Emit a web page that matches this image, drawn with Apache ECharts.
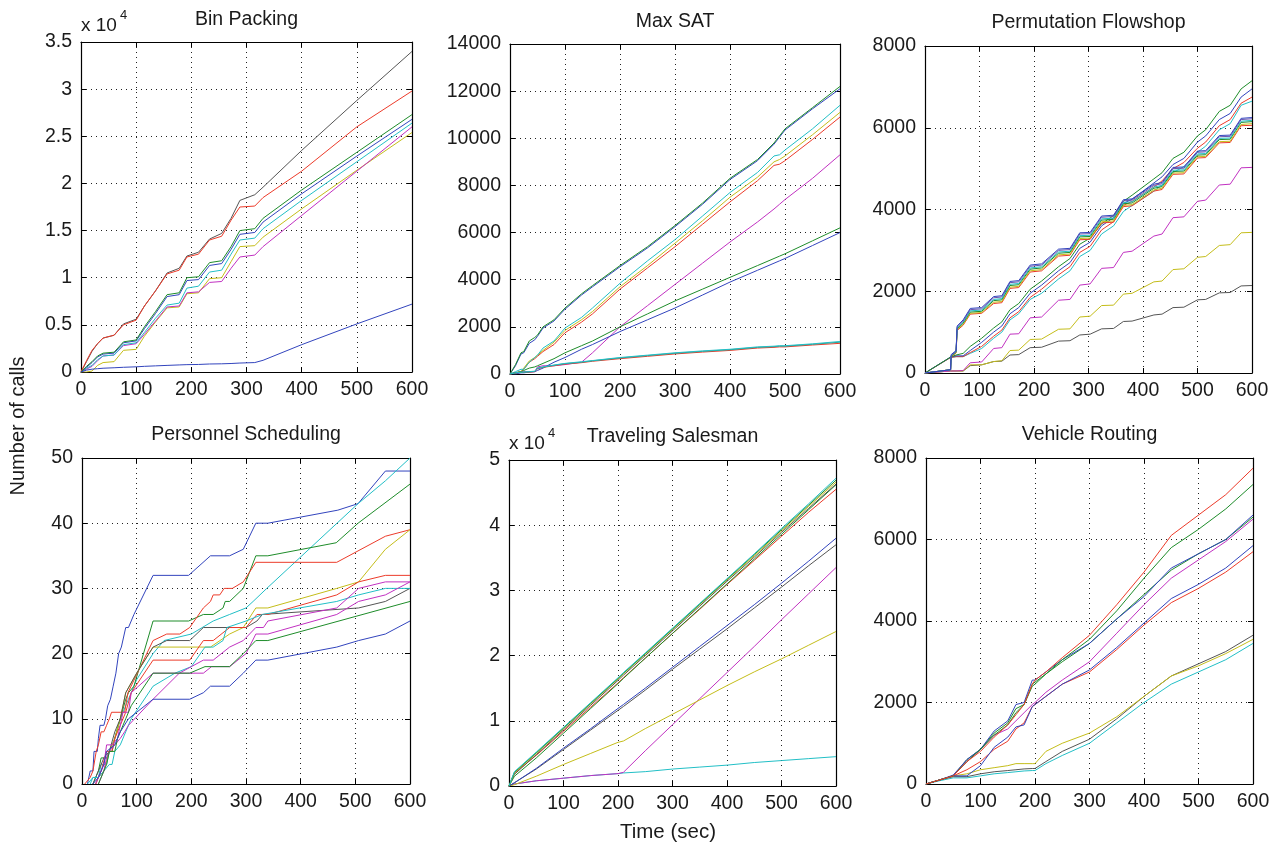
<!DOCTYPE html>
<html>
<head>
<meta charset="utf-8">
<script src="https://cdn.jsdelivr.net/npm/echarts@6/dist/echarts.min.js"></script>
<style>
html,body{margin:0;padding:0;background:#fff;}
#chart{width:1279px;height:848px;}
</style>
</head>
<body>
<div id="chart"></div>
<script>
// ---------------- DATA ----------------
const TIME_TICKS = [0, 100, 200, 300, 400, 500, 600];

// Bin Packing (common time grid)
const bpTime    = [0, 10, 20, 30, 40, 60, 77, 100, 115, 135, 156, 178, 192, 213, 233, 255, 272, 288, 315, 330, 400, 500, 600];
const bpGray    = [0, 1100, 2200, 3000, 3600, 3900, 5100, 5600, 7000, 8600, 10500, 11000, 12300, 12700, 14100, 14700, 16300, 18200, 18800, 19600, 23500, 28800, 34000];
const bpRed     = [0, 1200, 2300, 3000, 3600, 3900, 5000, 5500, 7000, 8600, 10400, 10800, 12200, 12500, 14000, 14400, 16100, 17500, 17600, 18500, 21300, 26000, 29800];
const bpGreen   = [0, 600, 1100, 1700, 2000, 2100, 3200, 3400, 4800, 6400, 8200, 8400, 10000, 10100, 11600, 11800, 13300, 15000, 15200, 16300, 19300, 23300, 27300];
const bpBlue    = [0, 500, 1000, 1600, 1900, 2000, 3100, 3300, 4600, 6200, 8000, 8200, 9700, 9800, 11300, 11500, 13000, 14600, 14800, 15900, 18900, 22900, 26800];
const bpCyan    = [0, 400, 700, 1300, 1700, 1800, 2900, 3100, 4200, 5700, 7100, 7300, 8900, 9100, 10600, 10800, 12500, 14000, 14200, 15200, 18200, 22300, 26400];
const bpMagenta = [0, 300, 600, 1200, 1700, 1800, 2800, 3000, 4000, 5400, 6900, 7000, 8400, 8500, 9500, 9600, 11000, 12200, 12400, 13300, 16600, 21300, 26000];
const bpYellow  = [0, 0, 100, 700, 1000, 1100, 2300, 2400, 3800, 5300, 6800, 6900, 8300, 8400, 9900, 10000, 11700, 13300, 13400, 14300, 17300, 21400, 25400];
const bpBlueLow = [0, 200, 300, 350, 400, 450, 500, 550, 600, 650, 700, 750, 780, 800, 850, 870, 900, 950, 1000, 1240, 2900, 5100, 7200];

// Max SAT
const msTime      = [0, 10, 20, 25, 35, 45, 50, 60, 80, 100, 130, 150, 200, 250, 300, 350, 400, 450, 480, 490, 500, 550, 600];
const msGreenTop  = [0, 400, 900, 950, 1400, 1550, 1650, 2000, 2300, 2800, 3400, 3750, 4600, 5400, 6300, 7250, 8300, 9100, 9800, 10100, 10400, 11300, 12200];
const msBlueTop   = [0, 350, 850, 900, 1300, 1450, 1600, 1950, 2250, 2750, 3350, 3700, 4550, 5350, 6250, 7200, 8250, 9050, 9750, 10050, 10350, 11250, 12100];
const msCyan      = [0, 100, 200, 200, 500, 700, 800, 1100, 1400, 1950, 2400, 2800, 3850, 4800, 5700, 6700, 7700, 8550, 9250, 9300, 9500, 10400, 11400];
const msYellow    = [0, 50, 100, 250, 550, 700, 800, 1000, 1350, 1850, 2300, 2650, 3700, 4600, 5550, 6500, 7500, 8350, 9000, 9100, 9250, 10150, 11100];
const msRed       = [0, 50, 100, 200, 500, 650, 750, 950, 1250, 1750, 2200, 2550, 3600, 4500, 5400, 6350, 7300, 8200, 8850, 8900, 9050, 9950, 10900];
const msMagenta   = [0, 50, 100, 100, 100, 100, 300, 350, 350, 400, 500, 900, 2000, 2900, 3800, 4700, 5600, 6450, 7000, 7200, 7400, 8300, 9300];
const msGreenMid  = [0, 50, 100, 150, 250, 300, 350, 450, 650, 900, 1200, 1400, 2000, 2550, 3100, 3600, 4100, 4600, 4900, 5000, 5100, 5650, 6200];
const msBlueMid   = [0, 0, 50, 50, 80, 100, 150, 250, 500, 700, 1050, 1250, 1800, 2300, 2800, 3350, 3900, 4400, 4700, 4800, 4900, 5450, 6000];
const msCyanLow   = [0, 50, 80, 80, 100, 120, 250, 300, 380, 450, 520, 570, 700, 800, 900, 980, 1050, 1150, 1180, 1200, 1200, 1280, 1380];
const msTealLow   = [0, 50, 75, 75, 90, 110, 240, 290, 370, 440, 500, 560, 680, 780, 880, 960, 1030, 1130, 1160, 1180, 1180, 1260, 1350];
const msRedLow    = [0, 50, 70, 70, 80, 100, 220, 280, 350, 420, 480, 540, 650, 750, 850, 930, 1000, 1100, 1130, 1150, 1150, 1230, 1300];

// Permutation Flowshop
const pfTime     = [0, 47, 48, 57, 59, 70, 83, 104, 126, 141, 156, 172, 193, 214, 245, 266, 284, 303, 324, 346, 364, 380, 420, 435, 455, 475, 500, 515, 540, 560, 580, 600];
const pfBlueA    = [0, 80, 450, 550, 1150, 1300, 1580, 1600, 1870, 1890, 2240, 2260, 2640, 2670, 3030, 3050, 3430, 3440, 3840, 3860, 4240, 4260, 4620, 4660, 5030, 5040, 5430, 5440, 5810, 5820, 6230, 6250];
const pfGrayA    = [0, 80, 430, 530, 1120, 1270, 1550, 1570, 1840, 1860, 2210, 2230, 2610, 2640, 3000, 3020, 3400, 3410, 3810, 3830, 4210, 4230, 4590, 4630, 5000, 5010, 5400, 5410, 5780, 5790, 6200, 6220];
const pfTealA    = [0, 80, 420, 520, 1100, 1240, 1520, 1540, 1800, 1820, 2170, 2190, 2570, 2600, 2960, 2980, 3360, 3370, 3770, 3790, 4170, 4190, 4550, 4590, 4960, 4970, 5360, 5370, 5740, 5750, 6160, 6180];
const pfGreenA   = [0, 80, 410, 510, 1080, 1220, 1490, 1510, 1770, 1790, 2140, 2160, 2540, 2570, 2930, 2950, 3330, 3340, 3740, 3760, 4140, 4160, 4520, 4560, 4930, 4940, 5330, 5340, 5710, 5720, 6130, 6150];
const pfYellowA  = [0, 80, 400, 500, 1060, 1190, 1460, 1480, 1730, 1750, 2100, 2120, 2500, 2530, 2890, 2910, 3290, 3300, 3700, 3720, 4100, 4120, 4480, 4520, 4890, 4900, 5290, 5300, 5660, 5670, 6080, 6100];
const pfRedA     = [0, 80, 390, 490, 1040, 1170, 1440, 1460, 1700, 1720, 2070, 2090, 2470, 2500, 2860, 2880, 3260, 3270, 3670, 3690, 4070, 4090, 4450, 4490, 4860, 4870, 5260, 5270, 5630, 5640, 6050, 6060];
const pfGreenB   = [0, 390, 400, 440, 450, 480, 650, 850, 1100, 1250, 1550, 1700, 2050, 2250, 2600, 2800, 3150, 3300, 3650, 3850, 4200, 4350, 4750, 4900, 5250, 5400, 5800, 5950, 6400, 6550, 6950, 7150];
const pfBlueB    = [0, 390, 400, 420, 420, 420, 550, 750, 1000, 1150, 1450, 1600, 1950, 2150, 2500, 2700, 3050, 3200, 3600, 3800, 4150, 4250, 4650, 4800, 5100, 5250, 5650, 5800, 6200, 6350, 6750, 6950];
const pfRedB     = [0, 380, 390, 400, 400, 400, 500, 650, 900, 1050, 1350, 1500, 1850, 2050, 2400, 2600, 2950, 3100, 3500, 3700, 4100, 4200, 4550, 4700, 5000, 5150, 5500, 5650, 6050, 6200, 6600, 6750];
const pfCyanB    = [0, 380, 390, 400, 400, 400, 480, 600, 850, 1000, 1300, 1450, 1800, 1950, 2300, 2500, 2850, 3000, 3400, 3600, 3950, 4100, 4450, 4600, 4900, 5050, 5400, 5550, 5950, 6100, 6550, 6650];
const pfMagenta  = [0, 50, 50, 50, 60, 60, 250, 270, 600, 620, 950, 960, 1350, 1370, 1780, 1800, 2150, 2180, 2560, 2580, 2950, 2980, 3350, 3400, 3800, 3820, 4200, 4230, 4600, 4620, 5020, 5030];
const pfYellow   = [0, 50, 50, 50, 50, 50, 200, 200, 280, 300, 550, 560, 820, 830, 1070, 1080, 1370, 1390, 1650, 1660, 1930, 1950, 2230, 2250, 2530, 2550, 2830, 2850, 3120, 3140, 3430, 3440];
const pfGray     = [0, 50, 50, 50, 50, 50, 180, 200, 280, 290, 440, 450, 620, 630, 780, 790, 930, 950, 1080, 1090, 1260, 1270, 1420, 1440, 1600, 1610, 1790, 1800, 1960, 1970, 2130, 2140];

// Personnel Scheduling ([time, calls] pairs)
const psBlue1   = [[10,0],[15,2],[20,2],[22,5],[28,5],[30,7],[33,9],[40,9],[43,10],[47,12],[52,13],[57,15],[62,17],[67,20],[72,21],[80,24],[85,24],[95,26],[130,32],[195,32],[235,35],[270,35],[295,36],[318,40],[340,40],[468,42],[505,43],[555,48],[600,48]];
const psCyan1   = [[15,0],[20,1],[30,1],[35,3],[45,3],[50,5],[60,7],[70,10],[85,13],[100,16],[130,20],[150,22],[200,23],[240,25],[270,26],[300,27],[313,28],[338,30],[505,43],[555,46.5],[600,50]];
const psGreen1  = [[20,0],[30,2],[35,4],[45,4],[50,5],[55,5],[60,7],[70,10],[80,13],[85,14],[95,15],[130,25],[195,25],[222,26],[240,26],[258,27],[262,28],[270,28],[295,30],[318,35],[340,35],[465,37],[505,40],[600,46]];
const psRed1    = [[5,0],[15,1],[20,2],[26,5],[30,6],[35,8],[40,8],[45,9],[50,10],[54,11],[78,11],[84,14],[130,22],[155,23],[179,23],[197,24],[222,27],[235,28],[240,29],[252,29],[260,30],[275,30],[295,31],[318,34],[466,34],[555,38],[600,39]];
const psYellow  = [[25,0],[30,1],[40,2],[50,5],[60,7],[70,10],[80,14],[100,17],[130,21],[235,21],[270,23],[295,24],[318,27],[340,27],[466,30],[506,31],[555,36],[600,39]];
const psGray    = [[20,0],[30,2],[40,4],[50,5],[60,8],[70,10],[80,14],[100,17],[130,21],[155,22],[197,22],[222,24],[300,24],[320,25],[330,26],[506,27],[555,28],[600,30]];
const psRed2    = [[25,0],[35,2],[45,5],[55,5],[60,7],[70,9],[80,11],[90,14],[130,19],[197,19],[222,22],[240,22],[270,24],[300,24],[320,26],[340,26],[466,29],[506,31],[555,32],[600,32]];
const psCyan2   = [[10,0],[20,1],[30,1],[40,2],[50,3],[55,3],[60,5],[70,6],[80,8],[90,10],[130,15],[170,17],[200,18],[225,21],[240,21],[258,22],[265,24],[300,25],[330,26],[466,28],[506,29],[555,30],[600,30]];
const psMagenta1= [[30,0],[40,2],[45,4],[50,5],[60,6],[70,7],[78,8],[85,9],[130,13],[178,17],[200,18],[222,19],[240,19],[270,21],[295,22],[318,24],[332,24],[340,25],[466,27],[506,30],[555,31],[600,31]];
const psMagenta2= [[25,0],[35,2],[40,3],[45,6],[55,6],[65,7],[75,11],[85,11],[90,14],[130,17],[222,17],[237,18],[270,18],[300,20],[318,23],[340,23],[466,26],[506,28],[555,29],[600,31]];
const psGreen2  = [[30,0],[40,2],[45,3],[50,5],[60,5],[65,7],[80,10],[90,12],[130,17],[197,17],[225,18],[270,18],[295,20],[318,22],[340,22],[600,28]];
const psBlue2   = [[20,0],[30,1],[40,3],[45,5],[60,6],[70,8],[85,10],[100,11],[130,13],[197,13],[222,14],[235,15],[270,15],[295,17],[318,19],[340,19],[466,21],[506,22],[555,23],[600,25]];

// Traveling Salesman
const tsTime     = [0, 10, 50, 100, 150, 200, 210, 250, 300, 350, 400, 450, 500, 550, 600];
const tsCyan     = [0, 2200, 5200, 9000, 12800, 16600, 17400, 20400, 24200, 28000, 31800, 35600, 39500, 43300, 47200];
const tsGreen    = [0, 2100, 5100, 8900, 12700, 16500, 17300, 20300, 24100, 27900, 31700, 35500, 39300, 43100, 46900];
const tsYellow   = [0, 2000, 5000, 8800, 12600, 16400, 17200, 20200, 24000, 27800, 31600, 35300, 39100, 42900, 46600];
const tsGrayTop  = [0, 1800, 4800, 8600, 12400, 16200, 17000, 20000, 23800, 27600, 31400, 35100, 38900, 42600, 46300];
const tsRed      = [0, 2000, 4700, 8400, 12100, 15800, 16600, 19600, 23400, 27100, 30900, 34600, 38300, 42000, 45500];
const tsGreen2   = [0, 1500, 4300, 8100, 11900, 15700, 16500, 19600, 23400, 27200, 31000, 34800, 38600, 42400, 46200];
const tsBlue     = [0, 500, 2700, 5800, 8800, 11900, 12500, 15000, 18200, 21400, 24600, 27800, 31100, 34500, 38000];
const tsGray     = [0, 500, 2600, 5600, 8600, 11600, 12200, 14700, 17900, 21000, 24100, 27300, 30500, 33800, 37000];
const tsYellowLow= [0, 200, 1500, 3300, 5000, 6700, 6900, 8800, 11000, 13200, 15400, 17500, 19500, 21600, 23700];
const tsMagenta  = [0, 300, 800, 1200, 1600, 1900, 2100, 5400, 9400, 13400, 17400, 21400, 25500, 29500, 33500];
const tsCyanLow  = [0, 300, 800, 1200, 1600, 1900, 2000, 2200, 2600, 2900, 3200, 3600, 3900, 4200, 4500];

// Vehicle Routing
const vrTime     = [0, 25, 50, 75, 100, 125, 150, 165, 180, 195, 200, 220, 250, 300, 350, 400, 450, 500, 550, 600];
const vrRed      = [0, 100, 200, 550, 800, 1150, 1450, 1700, 1950, 2450, 2550, 2750, 3100, 3650, 4400, 5200, 6100, 6600, 7100, 7750];
const vrGreen    = [0, 100, 200, 550, 850, 1200, 1450, 1750, 1950, 2400, 2450, 2700, 3050, 3550, 4250, 5050, 5800, 6250, 6750, 7350];
const vrBlue     = [0, 100, 220, 600, 850, 1300, 1550, 1950, 2000, 2550, 2550, 2750, 3050, 3450, 4050, 4600, 5300, 5650, 6000, 6600];
const vrGreen2   = [0, 100, 200, 600, 850, 1250, 1500, 1850, 1950, 2450, 2500, 2700, 3000, 3450, 4050, 4650, 5250, 5650, 6000, 6550];
const vrMagenta  = [0, 100, 200, 550, 850, 1200, 1350, 1550, 1750, 1950, 2000, 2250, 2550, 3000, 3700, 4400, 5050, 5500, 5950, 6500];
const vrBlue2    = [0, 100, 200, 200, 450, 900, 1150, 1400, 1450, 1900, 1950, 2150, 2450, 2800, 3350, 3950, 4550, 4900, 5300, 5850];
const vrRed2     = [0, 100, 200, 350, 550, 850, 1050, 1350, 1500, 1900, 1950, 2150, 2450, 2750, 3300, 3900, 4450, 4800, 5200, 5700];
const vrYellow   = [0, 100, 200, 250, 350, 400, 450, 500, 500, 500, 500, 800, 1000, 1250, 1650, 2150, 2650, 2900, 3200, 3550];
const vrGray     = [0, 100, 180, 180, 250, 300, 330, 350, 370, 380, 380, 550, 800, 1100, 1600, 2150, 2650, 2950, 3250, 3650];
const vrCyan     = [0, 80, 150, 150, 200, 250, 280, 300, 320, 330, 330, 500, 700, 1000, 1500, 2000, 2450, 2750, 3050, 3450];

// ---------------- STYLE ----------------
const C = {
  blue: '#3244bd', green: '#1e8c2a', red: '#ec3b2a', cyan: '#22bfc6',
  magenta: '#c131c1', yellow: '#c4bd1a', gray: '#555555', teal: '#2a9a8a', purple: '#6a55b0'
};
const FONT = '"Liberation Sans", Arial, Helvetica, sans-serif';

const zip = (t, v) => t.map((x, i) => [x, v[i]]);

const panels = [
  { title: 'Bin Packing', box: [81, 42, 331, 330], titleY: 20, ymax: 35000, yint: 5000, scale: 10000,
    lines: [[bpTime,bpGray,C.gray],[bpTime,bpRed,C.red],[bpTime,bpYellow,C.yellow],[bpTime,bpMagenta,C.magenta],[bpTime,bpCyan,C.cyan],[bpTime,bpBlue,C.blue],[bpTime,bpGreen,C.green],[bpTime,bpBlueLow,C.blue]] },
  { title: 'Max SAT', box: [510, 44, 330, 330], titleY: 22, ymax: 14000, yint: 2000,
    lines: [[msTime,msMagenta,C.magenta],[msTime,msRed,C.red],[msTime,msYellow,C.yellow],[msTime,msCyan,C.cyan],[msTime,msBlueTop,C.blue],[msTime,msGreenTop,C.green],[msTime,msBlueMid,C.blue],[msTime,msGreenMid,C.green],[msTime,msRedLow,C.red],[msTime,msTealLow,C.teal],[msTime,msCyanLow,C.cyan]] },
  { title: 'Permutation Flowshop', box: [925, 46, 327, 327], titleY: 23, ymax: 8000, yint: 2000,
    lines: [[pfTime,pfGray,C.gray],[pfTime,pfYellow,C.yellow],[pfTime,pfMagenta,C.magenta],[pfTime,pfCyanB,C.cyan],[pfTime,pfRedB,C.red],[pfTime,pfBlueB,C.blue],[pfTime,pfGreenB,C.green],[pfTime,pfRedA,C.red],[pfTime,pfYellowA,C.yellow],[pfTime,pfGreenA,C.green],[pfTime,pfTealA,C.cyan],[pfTime,pfGrayA,C.purple],[pfTime,pfBlueA,C.blue]] },
  { title: 'Personnel Scheduling', box: [82, 458, 328, 326], titleY: 435, ymax: 50, yint: 10,
    lines: [[null,psBlue1,C.blue],[null,psCyan1,C.cyan],[null,psGreen1,C.green],[null,psRed1,C.red],[null,psYellow,C.yellow],[null,psGray,C.gray],[null,psRed2,C.red],[null,psCyan2,C.cyan],[null,psMagenta1,C.magenta],[null,psMagenta2,C.magenta],[null,psGreen2,C.green],[null,psBlue2,C.blue]] },
  { title: 'Traveling Salesman', box: [509, 460, 327, 326], titleY: 437, ymax: 50000, yint: 10000, scale: 10000,
    lines: [[tsTime,tsCyanLow,C.cyan],[tsTime,tsMagenta,C.magenta],[tsTime,tsYellowLow,C.yellow],[tsTime,tsGray,C.gray],[tsTime,tsBlue,C.blue],[tsTime,tsRed,C.red],[tsTime,tsGreen2,C.green],[tsTime,tsGrayTop,C.gray],[tsTime,tsYellow,C.yellow],[tsTime,tsGreen,C.green],[tsTime,tsCyan,C.cyan]] },
  { title: 'Vehicle Routing', box: [926, 458, 327, 326], titleY: 435, ymax: 8000, yint: 2000,
    lines: [[vrTime,vrCyan,C.cyan],[vrTime,vrGray,C.gray],[vrTime,vrYellow,C.yellow],[vrTime,vrRed2,C.red],[vrTime,vrBlue2,C.blue],[vrTime,vrMagenta,C.magenta],[vrTime,vrGreen2,C.green],[vrTime,vrBlue,C.blue],[vrTime,vrGreen,C.green],[vrTime,vrRed,C.red]] }
];

const grid = [], xAxis = [], yAxis = [], series = [], graphic = [];
const gridLine = { show: true, lineStyle: { color: '#222', width: 1, type: [1, 4] } };
const axLine = { show: true, onZero: false, lineStyle: { color: '#000', width: 1.2 } };
const tick = { show: true, inside: true, length: 5, lineStyle: { color: '#000', width: 1 } };

panels.forEach((p, i) => {
  const [l, t, w, h] = p.box;
  grid.push({ left: l, top: t, width: w, height: h, containLabel: false });
  xAxis.push({ gridIndex: i, type: 'value', min: 0, max: 600, interval: 100, position: 'bottom',
    axisLine: axLine, axisTick: tick, splitLine: gridLine,
    axisLabel: { color: '#1a1a1a', fontSize: 19.5, fontFamily: FONT, margin: 8,
      formatter: v => TIME_TICKS.includes(v) ? String(v) : '' } });
  xAxis.push({ gridIndex: i, type: 'value', min: 0, max: 600, interval: 100, position: 'top',
    axisLine: axLine, axisTick: tick, splitLine: { show: false }, axisLabel: { show: false } });
  const sc = p.scale || 1;
  yAxis.push({ gridIndex: i, type: 'value', min: 0, max: p.ymax, interval: p.yint, position: 'left',
    axisLine: axLine, axisTick: tick, splitLine: gridLine,
    axisLabel: { color: '#1a1a1a', fontSize: 19.5, fontFamily: FONT, margin: 9,
      formatter: v => String(Math.round(v / sc * 10) / 10) } });
  yAxis.push({ gridIndex: i, type: 'value', min: 0, max: p.ymax, interval: p.yint, position: 'right',
    axisLine: axLine, axisTick: tick, splitLine: { show: false }, axisLabel: { show: false } });
  p.lines.forEach(([tArr, vArr, col]) => {
    series.push({ type: 'line', xAxisIndex: 2 * i, yAxisIndex: 2 * i,
      data: tArr ? zip(tArr, vArr) : vArr, showSymbol: false, symbol: 'none',
      lineStyle: { color: col, width: 1 }, itemStyle: { color: col }, silent: true, z: 3 });
  });
  graphic.push({ type: 'text', x: l + w / 2, y: p.titleY,
    style: { text: p.title, font: '19.5px ' + FONT, fill: '#1a1a1a', align: 'center', verticalAlign: 'middle' } });
  if (p.scale) {
    graphic.push({ type: 'text', x: l, y: t - 16,
      style: { text: 'x 10', font: '19px ' + FONT, fill: '#1a1a1a', align: 'left', verticalAlign: 'middle' } });
    graphic.push({ type: 'text', x: l + 39, y: t - 27,
      style: { text: '4', font: '13px ' + FONT, fill: '#1a1a1a', align: 'left', verticalAlign: 'middle' } });
  }
});

graphic.push({ type: 'text', x: 18, y: 426, rotation: Math.PI / 2,
  style: { text: 'Number of calls', font: '20px ' + FONT, fill: '#1a1a1a', align: 'center', verticalAlign: 'middle' } });
graphic.push({ type: 'text', x: 668, y: 832,
  style: { text: 'Time (sec)', font: '20.5px ' + FONT, fill: '#1a1a1a', align: 'center', verticalAlign: 'middle' } });

const chart = echarts.init(document.getElementById('chart'), null, { renderer: 'canvas' });
chart.setOption({ animation: false, backgroundColor: '#fff', grid, xAxis, yAxis, series, graphic });
</script>
</body>
</html>
